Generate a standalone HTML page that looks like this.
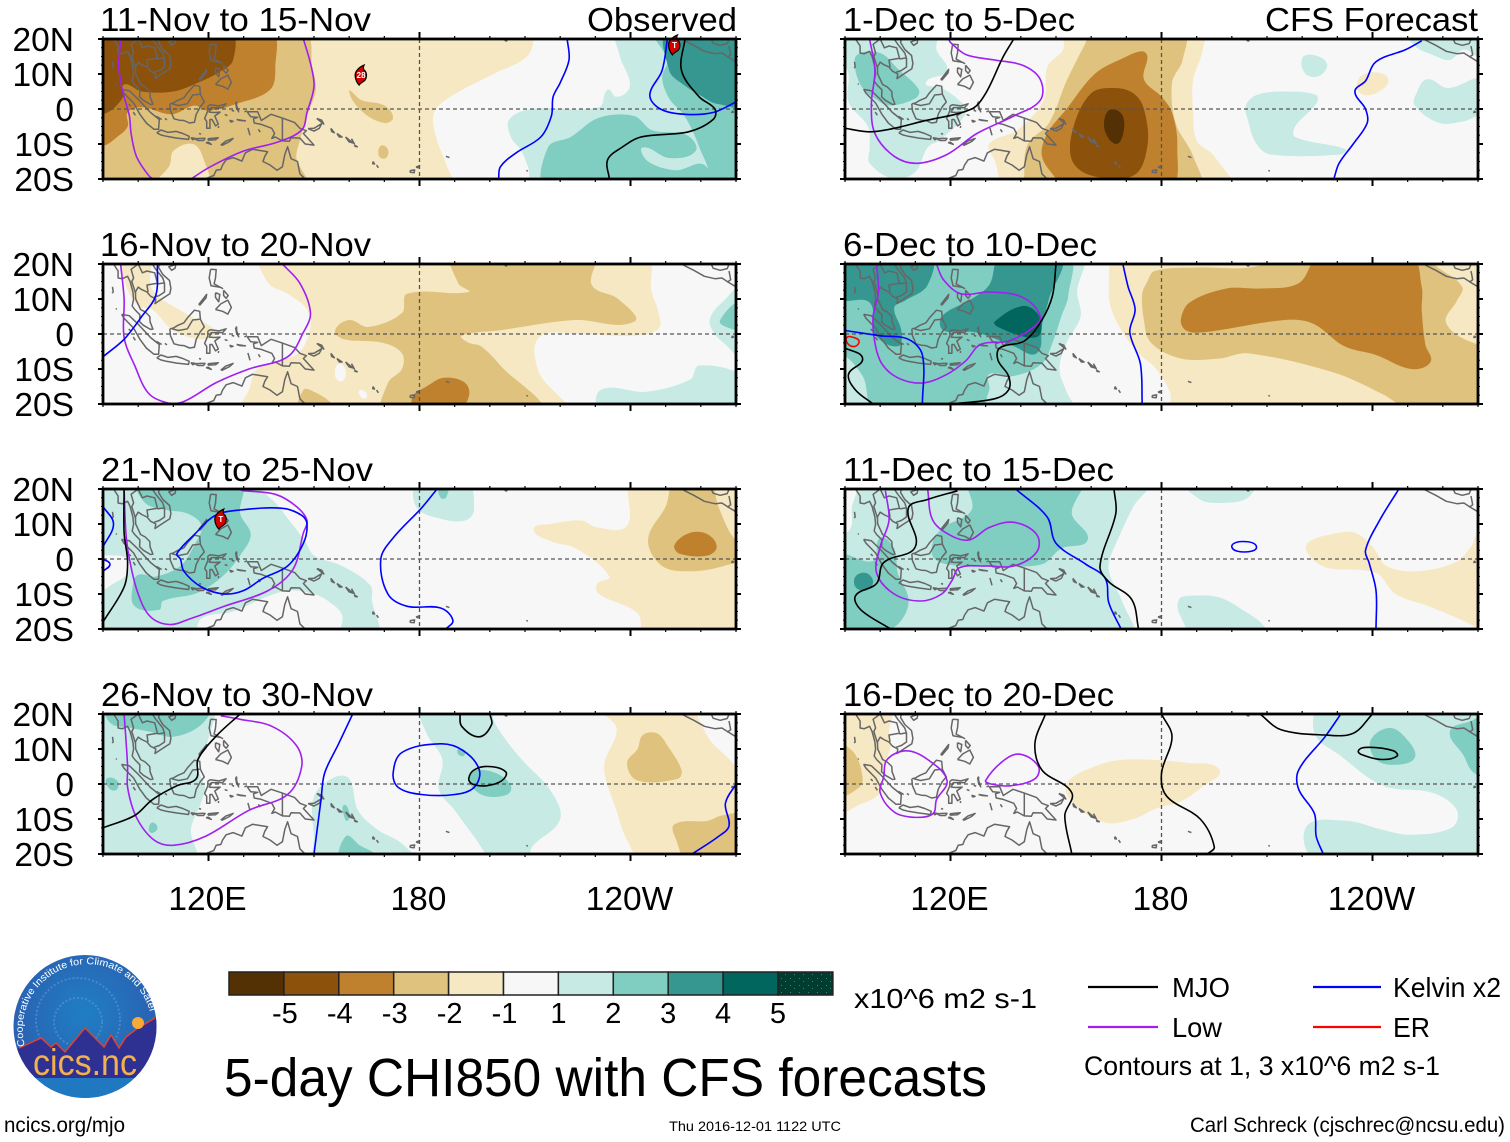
<!DOCTYPE html>
<html lang="en">
<head>
<meta charset="utf-8">
<title>5-day CHI850 with CFS forecasts</title>
<style>
html,body{margin:0;padding:0;background:#fff;}
svg{display:block;}
text{font-family:"Liberation Sans",sans-serif;fill:#000;}
</style>
</head>
<body>
<svg id="figure" xmlns="http://www.w3.org/2000/svg" width="1510" height="1142" viewBox="0 0 1510 1142">
  <rect x="0" y="0" width="1510" height="1142" fill="#ffffff"/>
  <defs>
    <radialGradient id="logoSky" cx="50%" cy="40%" r="60%">
      <stop offset="0%" stop-color="#1f7fc4"/>
      <stop offset="100%" stop-color="#2c5cae"/>
    </radialGradient>
    <clipPath id="logoClip"><ellipse cx="85" cy="1026.5" rx="71.5" ry="71.5"/></clipPath>
    <pattern id="specks" width="9" height="7" patternUnits="userSpaceOnUse">
      <rect width="1" height="1" x="2" y="1" fill="#2f8a7c"/>
      <rect width="1" height="1" x="7" y="5" fill="#2f8a7c"/>
    </pattern>
  </defs>

  <g font-size="33">
    <text x="100" y="31" textLength="271" lengthAdjust="spacingAndGlyphs">11-Nov to 15-Nov</text>
    <text x="587" y="31" textLength="150" lengthAdjust="spacingAndGlyphs">Observed</text>
    <text x="100" y="256" textLength="271" lengthAdjust="spacingAndGlyphs">16-Nov to 20-Nov</text>
    <text x="101" y="481" textLength="272" lengthAdjust="spacingAndGlyphs">21-Nov to 25-Nov</text>
    <text x="101" y="706" textLength="272" lengthAdjust="spacingAndGlyphs">26-Nov to 30-Nov</text>
    <text x="843" y="31" textLength="232" lengthAdjust="spacingAndGlyphs">1-Dec to 5-Dec</text>
    <text x="1265" y="31" textLength="213" lengthAdjust="spacingAndGlyphs">CFS Forecast</text>
    <text x="843" y="256" textLength="254" lengthAdjust="spacingAndGlyphs">6-Dec to 10-Dec</text>
    <text x="843" y="481" textLength="271" lengthAdjust="spacingAndGlyphs">11-Dec to 15-Dec</text>
    <text x="843" y="706" textLength="271" lengthAdjust="spacingAndGlyphs">16-Dec to 20-Dec</text>
  </g>

  <g id="panels"></g>
  <g id="colorbar"></g>

  <text x="854" y="1008" font-size="28" textLength="183" lengthAdjust="spacingAndGlyphs">x10^6 m2 s-1</text>

  <g>
    <line x1="1088" y1="987" x2="1158" y2="987" stroke="#000" stroke-width="2.2"/>
    <text x="1172" y="997" font-size="28" textLength="58" lengthAdjust="spacingAndGlyphs">MJO</text>
    <line x1="1088" y1="1027" x2="1158" y2="1027" stroke="#a020f0" stroke-width="2.2"/>
    <text x="1172" y="1037" font-size="28" textLength="50" lengthAdjust="spacingAndGlyphs">Low</text>
    <line x1="1313" y1="987" x2="1381" y2="987" stroke="#0000ff" stroke-width="2.2"/>
    <text x="1393" y="997" font-size="28" textLength="108" lengthAdjust="spacingAndGlyphs">Kelvin x2</text>
    <line x1="1313" y1="1027" x2="1381" y2="1027" stroke="#ff0000" stroke-width="2.2"/>
    <text x="1393" y="1037" font-size="28" textLength="37" lengthAdjust="spacingAndGlyphs">ER</text>
    <text x="1084" y="1075" font-size="27" textLength="356" lengthAdjust="spacingAndGlyphs">Contours at 1, 3 x10^6 m2 s-1</text>
  </g>

  <text x="224" y="1096" font-size="54" textLength="763" lengthAdjust="spacingAndGlyphs">5-day CHI850 with CFS forecasts</text>
  <text x="4" y="1132" font-size="21" textLength="121" lengthAdjust="spacingAndGlyphs">ncics.org/mjo</text>
  <text x="669" y="1131" font-size="14" textLength="172" lengthAdjust="spacingAndGlyphs">Thu 2016-12-01 1122 UTC</text>
  <text x="1190" y="1132" font-size="21" textLength="315" lengthAdjust="spacingAndGlyphs">Carl Schreck (cjschrec@ncsu.edu)</text>

  <g>
    <ellipse cx="85" cy="1026.5" rx="71.5" ry="71.5" fill="url(#logoSky)"/>
    <g clip-path="url(#logoClip)">
      <circle cx="78" cy="1020" r="42" fill="none" stroke="#5f97d6" stroke-width="2" stroke-dasharray="2 2" opacity="0.6"/>
      <circle cx="78" cy="1022" r="24" fill="none" stroke="#5f97d6" stroke-width="2" stroke-dasharray="2 2" opacity="0.6"/>
      <polygon points="10,1052 19,1048 41,1038 51,1047 56,1043 65,1052 85,1028 104,1047 111,1035 119,1048 126,1037 138,1028 160,1015 160,1078 10,1078" fill="#2e3192"/>
      <polyline points="19,1048 41,1038 51,1047 56,1043 65,1052 85,1028 104,1047 111,1035 119,1048 126,1037 138,1028 155,1018" fill="none" stroke="#e8402a" stroke-width="1.4"/>
      <rect x="10" y="1078" width="150" height="24" fill="#1f78c0"/>
    </g>
    <circle cx="138" cy="1023" r="6" fill="#f7a93a"/>
    <text x="85" y="1075" font-size="37" text-anchor="middle" textLength="104" lengthAdjust="spacingAndGlyphs" style="fill:#f2b04f">cics.nc</text>
    <path id="logoArc" d="M 25 1046 A 62 62 0 1 1 150 1012" fill="none"/>
    <text font-size="10" style="fill:#ffffff"><textPath href="#logoArc" textLength="222" lengthAdjust="spacingAndGlyphs">Cooperative Institute for Climate and Satellites</textPath></text>
  </g>
</svg>

<script>
// ---------- axis data ----------
const latTicks = [20, 10, 0, -10, -20];
const latLabels = ["20N", "10N", "0", "10S", "20S"];
const lonTicks = [120, 180, 240];
const lonLabels = ["120E", "180", "120W"];

// ---------- colour scale (fill band ids, colours, colour bar labels) ----------
const scaleLevels = [-5, -4, -3, -2, -1, 0, 2, 3, 4, 5, 6];
const scaleColors = ["#543005", "#8c510a", "#bf812d", "#dfc27d", "#f6e8c3", "#f7f7f7", "#c7eae5", "#80cdc1", "#35978f", "#01665e", "#003c30"];
const scaleLabels = ["-5", "-4", "-3", "-2", "-1", "1", "2", "3", "4", "5"];

// ---------- coastlines (lon, lat pairs) ----------
const coastlines = [
  [92,21,93,20,94.3,18,94.3,16,95.5,15.8,97,16.5,97.7,15,98.5,12,98.7,10,98.3,8,99,7,100.5,5.5,100.4,3.5,101.5,2.5,103.5,1.3,104.2,1.4,103.4,3.5,103.3,5,102,6.3,100.7,7,100,8.5,99.3,10,99.2,12,100,13.4,101,12.7,102.5,12,103.5,10.8,105,10,104.8,8.7,106.7,10,109,11.5,109.3,13,108.9,15.3,107,17,105.8,19,106,20,107,21],
  [100,20,98,18.5,98.7,16,98.2,15,99.3,11.5],
  [100,20,101.2,17.5,102.5,18,104.7,17.5,105.5,14.5,102.5,14,102.8,12],
  [104,20,105,18.5,107,16,107.5,14.5,107.5,12,106,11,104.5,10.5],
  [105.5,14.3,107.5,14.6],
  [95.3,5.6,97.5,5.2,100,2.8,103.5,-1,106,-3,105.8,-5.8,104.5,-5.8,102.3,-4,100.5,-1.5,98.7,1.7,96,4.5,95.3,5.6],
  [109,1.5,110,1.7,111.3,2.5,113,3.2,114,4.6,116,6.8,117.5,6.5,117.7,4.2,118.8,2,117.7,0.7,116.5,-1.5,116,-3.8,114.6,-4,113,-3.3,111.7,-3.2,110.2,-2.8,109.2,-0.5,109,1.5],
  [109.6,1.5,111.5,1,114,1.5,115.5,4,117.5,4.2],
  [105.3,-6.8,106.5,-6,108.5,-6.7,110.8,-6.4,112.7,-7,114.5,-7.8,114.3,-8.7,111,-8.3,108,-7.8,106.4,-7.4,105.3,-6.8],
  [115,-8.2,116.2,-8.4,115.6,-8.8,115,-8.2],
  [116.2,-8.5,118,-8.4,119,-8.4,118.6,-9,117,-9,116.2,-8.5],
  [119.8,-8.5,122.8,-8.2,122,-8.8,120,-8.9,119.8,-8.5],
  [119.3,-9.6,120.8,-10.1,120,-9.5,119.3,-9.6],
  [123.5,-10.3,125,-9.1,127,-8.4,126,-9.3,124,-10.3,123.5,-10.3],
  [119.8,0.8,120.5,1.2,123,0.9,125,1.5,124,0.4,120.8,0.4,120.2,-0.9,121.5,-1,123.3,-0.9,121.8,-2,122.8,-4.3,122,-4.8,121,-3,120.4,-3,120.4,-5.5,119.5,-5.5,119.5,-3.5,118.9,-2.7,119.8,-0.5,119.8,0.8],
  [120.6,18.5,122.2,18.4,122,16,121.6,14.3,124,13,123.5,13.3,120.7,13.8,120.2,16,120.6,18.5],
  [122,7,123.5,8.6,125.5,9.7,126.5,7.6,125.5,5.7,124,6.5,122,7],
  [124.3,12.5,125.6,11,125,10.2,124.3,11,124.3,12.5],
  [122,11.8,123.2,11.3,122.9,9.2,122,10.5,122,11.8],
  [117.2,8.4,119.5,11.3,119.3,10.3,117.6,8.3,117.2,8.4],
  [110.7,19.9,108.7,19.2,109.5,18.2,110.5,18.8,110.7,19.9],
  [131,-0.8,134,-0.8,135,-3.3,137.8,-1.5,141,-2.6,144.5,-3.9,146,-5.5,147.8,-6.2,147,-7,150,-10.3,147.5,-10,146,-8.3,143.5,-8.2,143,-9.2,141,-9.1,139,-8,138,-8.4,138.8,-7,138,-5.5,135,-4.4,133,-4,132.8,-2.8,134,-2.4,132,-2.2,131,-0.8],
  [141,-2.6,141,-9.1],
  [119,-20,121.5,-19,122.2,-17.5,123.5,-17.3,124,-16,125,-14.5,127,-13.9,129.5,-14.9,130.5,-12.5,132.5,-11.5,135.5,-12,136.8,-12.2,136,-13.5,135.5,-15,137.5,-16,139.5,-17.5,141,-16.5,141.7,-13,142.5,-10.8,143.5,-14.2,145.3,-15,146,-18.5,148,-20.5],
  [148.3,-5.6,150,-5.5,152.2,-4.2,151.5,-5.5,150,-6.3,148.3,-5.6],
  [150.8,-2.7,152.8,-4.3,152.2,-3.2,150.8,-2.7],
  [154.8,-5.5,155.8,-6.8,155,-6.4,154.8,-5.5],
  [156.5,-7,158,-8,157.2,-8,156.5,-7],
  [159,-8,161,-9.7,160,-9.4,159,-8],
  [160.7,-8.5,161.5,-10,161,-9.4,160.7,-8.5],
  [161.5,-10.3,162.3,-10.8,161.7,-10.7,161.5,-10.3],
  [166.8,-15,167.2,-15.7,166.7,-15.6,166.8,-15],
  [167.8,-16,168.3,-16.8],
  [177.3,-17.6,178.6,-17.4,178.5,-18.2,177.4,-18.1,177.3,-17.6],
  [179,-16.6,180,-16.2,179.6,-16.8,179,-16.6],
  [187.5,-13.5,188.5,-13.9],
  [210.4,-17.5,210.8,-17.8],
  [204.1,19.8,204.6,19.4,205,19.6],
  [253.5,20.5,254.5,20,256,19.2,258,18.2,261,16.5,264,15.8,266,16,268,14.7,270,13.5],
  [262.5,21,263.5,18.8,265.5,18.2,267.5,18.7,268.5,21],
  [268,18,268.5,15.5,267.5,14.8],
  [269,-0.5,269.3,-0.9,268.8,-1,269,-0.5],
  [127.7,1.8,128,0.2,128.6,-0.8,128,1,128,2,127.7,1.8],
  [128,-3,130.5,-3.4,129,-3.3,128,-3],
  [126,-3.2,127,-3.5,126.4,-3.7,126,-3.2],
  [131.2,-5.4,131.8,-7.5],
  [134.2,-5.8,134.7,-6.6],
  [92.7,13.5,92.9,12,92.6,11.7],
  [93.7,7.3,93.9,7],
  [97.3,1.4,97.9,0.9],
  [98.6,-0.9,99.2,-1.8],
  [105.2,-2.1,106.7,-3],
  [107.6,-2.7,108.2,-3.1],
  [117.3,-7,117.9,-7.2],
  [124.6,-1.6,125.4,-1.9],
  [126.6,-0.4,127.3,-0.6],
  [122.8,-5.4,122.9,-4.9],
  [130.2,-0.8,131,-0.5]
];

// ---------- 11-Nov to 15-Nov (observed) ----------
const nov11Fills = [
  [-1, [211,22,211,15.5,201,10,188,3,184,-1.5,185,-9,187.5,-15.5,189,-23,80,-23,80,22]],
  [-2, [147,22,149.5,12,150.5,5.5,148,-2,146,-9,145,-14,148,-23,80,-23,80,22]],
  [-1, [110,-12,115.5,-10,118.5,-14,119.5,-23,105,-23,109,-16]],
  [-2, [160,5,163.5,2.5,170,1,172.5,-2.5,170,-4,164,-1]],
  [-2, [169,-10.5,171,-11.5,170.5,-14,168.5,-13.5]],
  [-3, [137.5,22,139,12,137.5,5.5,128,1.5,120,-0.5,116,1,109.5,-1.5,101,0.5,97,-1,97,-5,94,-8,90,-10.5,80,-10,80,22]],
  [-4, [126,22,127,14,123,10.5,117,7.5,110,5,101,5,96,7,95.5,3,90,-1.5,80,-1,80,22]],
  [2, [236.5,23,237,15,239.5,9,239.5,5.5,236,3.5,233.5,5.5,231,0.5,212,0,205.5,-3,206,-8,209,-12,211,-17,212.5,-23,280,-23,280,23]],
  [3, [216.5,-23,216.5,-11,223,-8,231,-2.5,241,-2,246,-6,256,-7.5,258.5,-12,251,-14,243.5,-11,245,-15,253,-17.5,261,-16,262,-23]],
  [3, [247,23,250.5,14,249,9,251,3,255,-1.5,258,-7,260,-12,262,-17,262,-23,280,-23,280,23]],
  [4, [251,23,251,11,255,7,260.5,3.5,264.5,1.5,275,1.5,275,23]]
];
const nov11Low = [
  [95,20,94.5,12,95.5,5.5,97.5,-2,98,-7,99.5,-13.5,103,-19,105,-20.5],
  [115,-20,120.5,-16.5,130,-12,139.5,-9.5,146.5,-6,148,-1,150,6.5,149,13,147,20]
];
const nov11Kelvin = [
  [222,20,222.5,14,220,7.5,218,3.5,217.5,-2,214.5,-8,207.5,-12.5,203,-16.5,202.5,-20],
  [250.5,20,249,11,245.5,4,248.5,0,255.5,-1.5,263.5,-1,270,2]
];
const nov11Mjo = [
  [255.5,20,254.5,11,259.5,3.5,264,0,263.5,-3,256.5,-6.5,243,-8,237.5,-11,233.5,-14.5,234,-20]
];
const nov11Er = [];
const nov11Storms = [[163.4, 9.7, "28"], [252.5, 18.3, "T"]];

// ---------- 16-Nov to 20-Nov ----------
const nov16Fills = [
  [-1, [135,23,137,14.5,142.5,11.5,148,7,149,2,145.5,-5.5,134,-10,131.5,-16,129,-23,222,-23,214,-11,214,-1,225,0,241,-0.5,248,1.5,248,6,246,12,244,23]],
  [0, [157,-8.5,159,-10.5,158,-13.5,156,-12]],
  [0, [163,-16,165,-17,164.5,-18.5,163,-17.5]],
  [-1, [96,22,103,22,103.5,14,106,10.5,115,5,122,0.5,118,-1.5,110,1,104,7,100,8,96.5,14]],
  [-2, [189.5,23,191,14.5,194,12,176.5,11.5,175,6,165.5,2,160,4,156,1,158.5,-1.5,169.5,-2.5,175,-5.5,175,-10,171,-14,170,-23,214,-23,203,-9,197.5,-3.5,194,-2.5,192,-0.5,202.5,1,224,4,241,3.5,236.5,10,229,14,229.5,23]],
  [-2, [147,-16,150,-16.5,155,-20,155,-23,146,-23]],
  [-3, [179,-23,190,-23,194,-18,193,-14,187,-12.5,182,-15,178,-18]],
  [2, [232,-23,231.5,-16,244.5,-16.5,257,-13,259.5,-9,272,-12,280,-23]],
  [2, [275,15,266,9,262.5,4,264,0,267,-3,272,-7,280,-5]],
  [3, [275,10,265.5,4,270,1,275,0]]
];
const nov16Low = [
  [95,20,96,10,96,-1,99,-9,103,-17,108.5,-19.7,113,-19.3,122,-14,131.5,-10,142.5,-6.5,147,0.5,149,6,146,14.5,141,20]
];
const nov16Kelvin = [
  [90,-6.5,96,-1.5,101,5,105,11,105.5,20]
];
const nov16Mjo = [];
const nov16Er = [];
const nov16Storms = [];

// ---------- 21-Nov to 25-Nov ----------
const nov21Fills = [
  [2, [129,23,138,17,143,11,147.5,5,150,1,158,-2,166,-7.5,166.5,-12,168,-23,158,-23,158,-16,154,-12,150,-10,143,-9,136,-11,127,-15,118,-17,115,-23,80,-23,80,23]],
  [0, [88,0,92,1,97,0,97,-4,93,-7,88,-9]],
  [2, [180,23,179,15,186,11.5,193,11,195.5,14,193,23]],
  [3, [185.5,21,188,21,187.5,17.5,186,17.5]],
  [3, [100,22,102,16,108,14,114,13,118,9.5,116,4,112,-2,105,-5,100,-4.5,98.5,-7.5,99,-13.5,106,-14.5,107,-12,116,-10,120,-8,125,-4,129,1,132,7,129,13,129,23]],
  [-1, [241,23,239,9.5,230.5,9,226,11,217.5,10,212.5,8.5,217.5,5,224.5,3,234,-5,230.5,-7,231,-10,242,-15.5,244.5,-23,280,-23,280,23]],
  [-2, [253,23,250,15,245,5.5,249,-2,257,-3.5,266.5,-2,272,1,268,8,265,15,262,23]],
  [-3, [252.5,4,257,7.5,262,7,264.5,3.5,262,1,254,1.5]]
];
const nov21Low = [
  [96,20,96.5,7.5,97.5,0,100,-10,103.5,-16.5,109,-18.7,115,-17,124.5,-13.5,137,-9,144,-3,147,7.5,148,11,145,15,139,18.5,129.5,19.6,129,20]
];
const nov21Kelvin = [
  [111,1.5,116,7,122,12.5,129,14,141,14.5,146.5,12.5,148,10,147,4.5,142.5,-2,135.5,-5.5,130,-9,124.5,-10,118,-8,113,-3.5,112,0,111,1.5],
  [90,15,93,10,90,3.5],
  [90,0,92,-1.5,90,-3.5],
  [185,20,180.5,14.5,172.5,6,169,0,171,-10,176.5,-13.5,186,-14,189.5,-17.5,187.5,-20]
];
const nov21Mjo = [
  [96,20,96,7.5,97,-1,96,-8,90,-18]
];
const nov21Er = [];
const nov21Storms = [[123.5, 11.4, "T"]];

// ---------- 26-Nov to 30-Nov ----------
const nov26Fills = [
  [2, [120.5,23,120,13,117,5,119,-1,118,-5,115,-13,116,-23,80,-23,80,23]],
  [3, [91,23,92,17.5,98,16,103,15,110,13.5,118,17,120.5,23]],
  [3, [91,1.5,94,1,94,-1.5,92,-1.5]],
  [3, [104,-11,105.5,-12.5,104,-14,103,-13]],
  [2, [150,-3.5,156,2,160,1.5,162.5,-7.5,168,-13,175,-17,179,-23,151,-23,150,-15]],
  [3, [158.5,-6,160,-8,159.5,-10.5,158.5,-9]],
  [3, [158,-23,159,-15,163,-17.5,168,-20.5,168,-23]],
  [2, [180.5,23,182,14.5,186.5,7,185.5,-1.5,190,-7.5,195.5,-15,202,-23,210.5,-23,212,-18,220,-10,217,-1.5,210,6,205,12,201,18.5,201,23]],
  [3, [191,10,193,9.5,192.5,8,191,8.5]],
  [3, [196,4,202,3,206,-0.5,205,-3,199,-3.5,195,-1,194,2]],
  [-1, [230,23,236,16,232.5,5,236,-7.5,239,-16,244.5,-23,280,-23,272,0,269,6,263,12,255,23]],
  [-2, [247.5,14.5,250.5,11,254.5,4,253.5,1.5,242,1,239,6,242,10,243.5,14]],
  [-2, [252.5,-11.5,262,-10.5,266,-9,275,-9,275,-23,257,-23,253,-16]]
];
const nov26Low = [
  [96,20,97,5,97,-1,99.5,-9.5,104.5,-16,110,-17.5,119,-15,131.5,-7.5,142.5,-3,146.5,5,145,11,138,16.5,129,18.5,123.5,19.5]
];
const nov26Kelvin = [
  [161,20,157,11.5,153,3,152,-4.5,150,-20],
  [172.5,3,175,9,186,11.5,192.5,9.5,197,4,195.5,-1,190,-3,180.5,-3,174,-1,172.5,3],
  [270,0,267,-5.5,268,-12,265,-15,257.5,-20]
];
const nov26Mjo = [
  [191.5,20,192,16.5,197,13.5,200.5,17,200,20],
  [194,1.5,195.5,4,199.5,5,204.5,3.5,203.5,1,199,-0.5,195,0,194,1.5],
  [129,20,122,13.5,117,7,116.5,1.5,111,-0.5,104,-4.5,99,-9,90,-12.5]
];
const nov26Er = [];
const nov26Storms = [];

// ---------- 1-Dec to 5-Dec (forecast) ----------
const dec1Fills = [
  [2, [88,23,116,23,116,17,119,11,113,7.5,117.5,6,123,2,124.5,-1,117.5,-8.5,113.5,-11,110,-18,104,-20,97,-15.5,97,-11,96.5,-5,91,2,91,10,89,15]],
  [3, [93.5,15.5,100,16,105,11.5,111,5.5,110,3,102.5,1,98.5,3,95,6,93,11]],
  [2, [220,14.5,223,15.5,227,13,225,9.5,221,10]],
  [2, [204,1,207,4,215,5,224,4,224,1.5,218,-5,218,-8,232.5,-11.5,231,-13,211,-13,207,-10,204.5,-3]],
  [2, [250,22,252,18,257,15.5,262,14,266,17,270,15,275,15,275,22]],
  [2, [270,9,261.5,6,255.5,8.5,252.5,4.5,252,1,259,-4,266,-3.5,270,-2,275,-2,275,9]],
  [-1, [153,23,152,17,147.5,12,146.5,2.5,139,-6,131,-10,132.5,-14.5,136.5,-23,199.5,-23,195,-13.5,190,-9,189,-1,189,8.5,191.5,16,191.5,23]],
  [-2, [161,23,158,18,153,8,148,-4,142,-10,141,-18,142,-23,190.5,-23,189,-13.5,184,-4,183,7.5,186,14,186,23]],
  [-3, [174.5,16.5,169,14.5,161,10,153,0,147.5,-7,146,-13.5,150,-20,152,-23,182,-23,184.5,-10.5,183,-1,180,3.5,175,8.5,176,15]],
  [-4, [166.5,6,160,4.5,155,-5,154.5,-14.5,160,-19,172,-19,176,-10.5,175,0,172,4.5]],
  [-5, [166,0,164,-2,164,-6.5,167,-10,169,-7.5,169,-2]],
  [-1, [236,8.5,240,10.5,244.5,8.5,241,4.5,236.5,4.5]]
];
const dec1Low = [
  [97,20,98.5,11,97.5,1.5,98.5,-7,104,-13.5,110.5,-15.5,119,-13,127.5,-7,138,-2,145.5,2.5,145.5,8.5,140.5,12.5,132.5,14,124.5,15.5,120,19,119.5,20]
];
const dec1Kelvin = [
  [254,19.5,249.5,17,241,13.5,238,8,235,5,238,0,238.5,-4,234.5,-10,230.5,-15.5,229,-20]
];
const dec1Mjo = [
  [138,20,135,15,130,4.5,126,0,112,-3.5,104,-5.5,97,-6.5,90,-5.5]
];
const dec1Er = [];
const dec1Storms = [];

// ---------- 6-Dec to 10-Dec ----------
const dec6Fills = [
  [-1, [168,23,165,12,167,4,173,-5,178.5,-10,182.5,-17,183,-23,280,-23,280,23]],
  [-2, [190,19,178,18,176,15,174.5,11.5,175,4,177,-2.5,185.5,-7,196.5,-7,204.5,-5.5,229,-11,242.5,-17,253.5,-23,280,-23,280,-3.5,270,-3,261,3,264,9.5,265.5,13.5,258,19.5,255,23,222,23,205,19]],
  [-3, [225.5,23,219,14.5,208,13,198.5,13,188,9,185.5,4,187,1,192,0.5,215,4,223,3,232,-3.5,241,-6,251,-10,256.5,-8,255,-3,254,7,254,13.5,250.5,23]],
  [2, [157,23,156,12,157,5,153,-2.5,151,-10,153,-16.5,155.5,-23,80,-23,80,23]],
  [3, [153,23,153.5,11,151.5,5,149,-2.5,146,-8.5,138,-12,131,-11.5,131,-16,127,-23,99,-23,95,-12,88,-5,80,-5,80,23]],
  [4, [88,23,88,10.5,97,9,98.5,0,105,-3.5,106,1,104,7.5,107,9.5,113.5,14,114,23]],
  [4, [151,23,148,10,146,2.5,144.5,-5.5,138,-3.5,127,0.5,118,1,117.5,5,126,10,131,14,132.5,19.5,133,23]],
  [5, [132.5,3.5,140.5,8,145,5.5,145.5,0,142,-1,133.5,2]]
];
const dec6Low = [
  [99,20,99.5,12,98,5,98.5,-2.5,100.5,-8.5,105,-12.5,112,-14,119,-11.5,124.5,-7.5,128.5,-3,136.5,-2,143,1.5,145.5,5,140.5,10.5,131,12,123,11.5,118,15.5,116,20]
];
const dec6Kelvin = [
  [90,1,100,-0.5,108,-1.5,112,-6,112,-20],
  [169,20,170.5,13.5,172.5,7,171,0.5,174,-8.5,174.5,-20]
];
const dec6Mjo = [
  [150,20,149,11,146,4,141,-2,134,-4,133.5,-7.5,136.5,-12,136.5,-16,132.5,-18.5,120,-20],
  [90,-4,95,-7,91,-11.5,93,-16,98,-20]
];
const dec6Er = [
  [90.5,-1,92.5,-1,94,-2,93,-3.5,91,-3,90.5,-1]
];
const dec6Storms = [];

// ---------- 11-Dec to 15-Dec ----------
const dec11Fills = [
  [2, [177,23,172,15,168,6.5,165,-1,165.5,-5,169,-12.5,171.5,-23,80,-23,80,5,91,8,92,15,93.5,20,93.5,23]],
  [3, [157,23,154.5,13,159,5.5,151.5,3,146,-1.5,134,-2,123,-2,115.5,0,115,5,118,9,126,14,125.5,23]],
  [3, [88,0.5,98,-0.5,100,6,104,3,105,-4,108,-11,107,-16,103,-20,88,-23]],
  [4, [93,-5,96,-4,98,-6.5,96,-9,93,-8]],
  [2, [186,23,191,17,196.5,16,204.5,17.5,206.5,23]],
  [2, [185,-11.5,188,-10.5,196.5,-11,203,-14.5,209,-19,210,-23,190.5,-23,185,-15.5]],
  [-1, [221.5,4.5,228,7,235,7.5,240,3.5,244,-2,252.5,-3.5,263.5,-1,268,3.5,270.5,8,276,8,276,-24,268.5,-19,256,-13.5,246.5,-10,241,-4,227,-2.5,222,1]]
];
const dec11Low = [
  [101.5,19.5,102.5,11,100,3.5,99,-4,104,-10,111.5,-12,117.5,-10,120.5,-6,122.5,-2.5,130,-2,138,-2,144.5,2,144.5,7,138,10.5,131,9,125.5,5.5,120.5,6.5,115,11,113.5,20]
];
const dec11Kelvin = [
  [138.5,20,147.5,12,150,4.5,158.5,-1.5,164,-5.5,165,-12.5,168.5,-20],
  [200,3.5,203,5,207,3.5,203.5,2,200,3.5],
  [247.5,20,242,11,238,2.5,239,-1,241,-9,241,-20]
];
const dec11Mjo = [
  [122,19.5,113.5,17,108,14.5,110,3.5,101,-1,99,-7,93,-10.5,94.5,-14.5,103,-20],
  [166.5,20,167,13,162.5,-2,165,-6.5,171.5,-11.5,173.5,-20]
];
const dec11Er = [];
const dec11Storms = [];

// ---------- 16-Dec to 20-Dec ----------
const dec16Fills = [
  [-1, [102.5,23,102.5,14.5,103,10.5,100,3,100,-2.5,93,-6.5,88,-9,80,-9,80,23]],
  [-2, [88,11,92.5,9,95,2,94,-1,88,-3]],
  [-1, [153,0,161,5,170,7,188,6,196.5,4,192,-0.5,185.5,-5,178.5,-7,172,-10,164,-11,155,-5.5]],
  [2, [226,23,223.5,14.5,231,8,243,-0.5,257,-2.5,264,-7.5,262.5,-12.5,250.5,-14.5,242.5,-13,232.5,-10.5,221,-12.5,225.5,-23,280,-23,280,23]],
  [3, [239.5,12.5,245,16,250,12.5,252,7.5,246.5,5.5,241,7]],
  [3, [262,15,266,8,268,4,271,2,275,2,275,21,268,18]]
];
const dec16Low = [
  [102,7,107.5,9.5,113.5,7,119,1,116,-4.5,115,-8.5,109.5,-9.5,104,-8,100,-2.5,101,2,102,7],
  [130,1,135.5,7,140,8.5,145,5,144,1.5,137,-0.5,131.5,0,130,1]
];
const dec16Kelvin = [
  [231,20,226.5,13.5,219,4,219,-1.5,223.5,-8.5,224,-15,226,-20]
];
const dec16Mjo = [
  [147,20,144,11.5,146,4,154.5,-2.5,152.5,-9,154.5,-20],
  [180,20,183,13.5,180,3,181.5,-3.5,191,-10,195,-18,193,-20],
  [208,20,214,15.5,226.5,14,234.5,14.5,240,20],
  [236,9.5,239,10.5,246,9.5,247,8,243,7,238,8,236,9.5]
];
const dec16Er = [];
const dec16Storms = [];

// ---------- panel registry ----------
const panelList = [
  {id:"nov-11", col:0, row:0, fills:nov11Fills, low:nov11Low, kelvin:nov11Kelvin, mjo:nov11Mjo, er:nov11Er, storms:nov11Storms},
  {id:"nov-16", col:0, row:1, fills:nov16Fills, low:nov16Low, kelvin:nov16Kelvin, mjo:nov16Mjo, er:nov16Er, storms:nov16Storms},
  {id:"nov-21", col:0, row:2, fills:nov21Fills, low:nov21Low, kelvin:nov21Kelvin, mjo:nov21Mjo, er:nov21Er, storms:nov21Storms},
  {id:"nov-26", col:0, row:3, fills:nov26Fills, low:nov26Low, kelvin:nov26Kelvin, mjo:nov26Mjo, er:nov26Er, storms:nov26Storms},
  {id:"dec-1",  col:1, row:0, fills:dec1Fills,  low:dec1Low,  kelvin:dec1Kelvin,  mjo:dec1Mjo,  er:dec1Er,  storms:dec1Storms},
  {id:"dec-6",  col:1, row:1, fills:dec6Fills,  low:dec6Low,  kelvin:dec6Kelvin,  mjo:dec6Mjo,  er:dec6Er,  storms:dec6Storms},
  {id:"dec-11", col:1, row:2, fills:dec11Fills, low:dec11Low, kelvin:dec11Kelvin, mjo:dec11Mjo, er:dec11Er, storms:dec11Storms},
  {id:"dec-16", col:1, row:3, fills:dec16Fills, low:dec16Low, kelvin:dec16Kelvin, mjo:dec16Mjo, er:dec16Er, storms:dec16Storms}
];

// ---------- layout ----------
const NS = "http://www.w3.org/2000/svg";
const colLeft = [103, 845];
const rowTop = [39, 264, 489, 714];
const plotW = 633;
const plotH = 140;
const lonMin = 90, lonMax = 270, latMax = 20, latMin = -20;

function make(tag, attrs, parent) {
  const el = document.createElementNS(NS, tag);
  for (const k in attrs) el.setAttribute(k, attrs[k]);
  parent.appendChild(el);
  return el;
}
function pairs(flat, xs, ys) {
  const out = [];
  for (let i = 0; i + 1 < flat.length; i += 2) out.push([xs(flat[i]), ys(flat[i + 1])]);
  return out;
}
function splinePath(pts, closed) {
  const n = pts.length;
  const at = i => closed ? pts[(i + n) % n] : pts[Math.max(0, Math.min(n - 1, i))];
  const dir = i => {
    const a = at(i - 1), b = at(i + 1);
    const dx = b[0] - a[0], dy = b[1] - a[1];
    const l = Math.hypot(dx, dy) || 1;
    return [dx / l, dy / l];
  };
  let d = "M" + pts[0][0].toFixed(1) + "," + pts[0][1].toFixed(1);
  const segs = closed ? n : n - 1;
  for (let i = 0; i < segs; i++) {
    const p1 = at(i), p2 = at(i + 1);
    const len = Math.hypot(p2[0] - p1[0], p2[1] - p1[1]) / 3;
    const t1 = dir(i), t2 = dir(i + 1);
    d += "C" + (p1[0] + t1[0] * len).toFixed(1) + "," + (p1[1] + t1[1] * len).toFixed(1) + " " +
         (p2[0] - t2[0] * len).toFixed(1) + "," + (p2[1] - t2[1] * len).toFixed(1) + " " +
         p2[0].toFixed(1) + "," + p2[1].toFixed(1);
  }
  return d + (closed ? "Z" : "");
}
function isClosed(flat) {
  return flat.length > 4 && flat[0] === flat[flat.length - 2] && flat[1] === flat[flat.length - 1];
}
function linearPath(pts) {
  return "M" + pts.map(p => p[0].toFixed(1) + "," + p[1].toFixed(1)).join("L");
}
function colorFor(level) {
  return scaleColors[scaleLevels.indexOf(level)];
}

// ---------- draw panels ----------
const panelsRoot = document.getElementById("panels");
panelList.forEach(function (panel) {
  const left = colLeft[panel.col], top = rowTop[panel.row];
  const xs = lon => left + (lon - lonMin) / (lonMax - lonMin) * plotW;
  const ys = lat => top + (latMax - lat) / (latMax - latMin) * plotH;

  const group = make("g", {}, panelsRoot);
  
  

  const clipId = "clip-" + panel.id;
  const clip = make("clipPath", {id: clipId}, group);
  make("rect", {x: left, y: top, width: plotW, height: plotH}, clip);

  const body = make("g", {"clip-path": "url(#" + clipId + ")"}, group);
  
  

  const bg = make("rect", {x: left, y: top, width: plotW, height: plotH, fill: colorFor(0)}, body);
  
  

  panel.fills.forEach(function (shape) {
    const fillPath = make("path", {d: splinePath(pairs(shape[1], xs, ys), true), fill: colorFor(shape[0])}, body);
    
    
  });

  coastlines.forEach(function (flat) {
    const coast = make("path", {d: linearPath(pairs(flat, xs, ys)), fill: "none", stroke: "#666666", "stroke-width": 1.5, "stroke-linejoin": "round"}, body);
    
    
  });

  const eq = make("line", {x1: left, x2: left + plotW, y1: ys(0), y2: ys(0), stroke: "#555555", "stroke-width": 1.3, "stroke-dasharray": "4 3"}, body);
  
  
  const dl = make("line", {x1: xs(180), x2: xs(180), y1: top, y2: top + plotH, stroke: "#555555", "stroke-width": 1.3, "stroke-dasharray": "4 3"}, body);
  
  

  panel.low.forEach(function (flat) {
    const p = make("path", {d: splinePath(pairs(flat.slice(0, isClosed(flat) ? -2 : undefined), xs, ys), isClosed(flat)), fill: "none", stroke: "#a020f0", "stroke-width": 1.6}, body);
    
    
  });
  panel.kelvin.forEach(function (flat) {
    const p = make("path", {d: splinePath(pairs(flat.slice(0, isClosed(flat) ? -2 : undefined), xs, ys), isClosed(flat)), fill: "none", stroke: "#0000ff", "stroke-width": 1.6}, body);
    
    
  });
  panel.mjo.forEach(function (flat) {
    const p = make("path", {d: splinePath(pairs(flat.slice(0, isClosed(flat) ? -2 : undefined), xs, ys), isClosed(flat)), fill: "none", stroke: "#000000", "stroke-width": 1.6}, body);
    
    
  });
  panel.er.forEach(function (flat) {
    const p = make("path", {d: splinePath(pairs(flat.slice(0, isClosed(flat) ? -2 : undefined), xs, ys), isClosed(flat)), fill: "none", stroke: "#ff0000", "stroke-width": 1.6}, body);
    
    
  });

  panel.storms.forEach(function (storm) {
    const cx = xs(storm[0]), cy = ys(storm[1]);
    const sg = make("g", {transform: "translate(" + cx.toFixed(1) + "," + cy.toFixed(1) + ")"}, group);
    
    
    make("path", {d: "M3,-10 C-2,-8 -6,-4 -6,0 C-6,4 -4,8 -2,10 C-1,8 2,7 4,5 C6,2 6,-3 3,-5 C2,-7 2,-8 3,-10Z", fill: "#d40000", stroke: "#000", "stroke-width": 1.2}, sg);
    const label = make("text", {x: 0, y: 3, "font-size": 8, "font-weight": "bold", "text-anchor": "middle", style: "fill:#ffffff"}, sg);
    label.textContent = storm[2];
  });

  // frame
  const frame = make("rect", {x: left, y: top, width: plotW, height: plotH, fill: "none", stroke: "#000", "stroke-width": 2.8}, group);
  
  

  // ticks
  const tickGroup = make("g", {stroke: "#000", "stroke-width": 1.4}, group);
  
  
  for (let lon = lonMin; lon <= lonMax; lon += 10) {
    const major = lonTicks.indexOf(lon) >= 0;
    const len = major ? 7 : 3;
    make("line", {x1: xs(lon), x2: xs(lon), y1: top - len, y2: top, "stroke-width": major ? 2 : 1.2}, tickGroup);
    make("line", {x1: xs(lon), x2: xs(lon), y1: top + plotH, y2: top + plotH + len, "stroke-width": major ? 2 : 1.2}, tickGroup);
  }
  for (let lat = latMin; lat <= latMax; lat += 2.5) {
    const major = latTicks.indexOf(lat) >= 0;
    const len = major ? 5 : 2;
    make("line", {x1: left - len, x2: left, y1: ys(lat), y2: ys(lat), "stroke-width": major ? 2 : 1}, tickGroup);
    make("line", {x1: left + plotW, x2: left + plotW + len, y1: ys(lat), y2: ys(lat), "stroke-width": major ? 2 : 1}, tickGroup);
  }

  // y tick labels on the left column only
  if (panel.col === 0) {
    latTicks.forEach(function (lat, i) {
      const t = make("text", {x: left - 29, y: ys(lat) + 12, "font-size": 33.5, "text-anchor": "end"}, group);
      
      
      t.textContent = latLabels[i];
    });
  }

  // x tick labels on the bottom row only
  if (panel.row === rowTop.length - 1) {
    lonTicks.forEach(function (lon, i) {
      const t = make("text", {x: xs(lon) - 1, y: 910, "font-size": 33.5, "text-anchor": "middle"}, group);
      
      
      t.textContent = lonLabels[i];
    });
  }
});

// ---------- colour bar ----------
const cbRoot = document.getElementById("colorbar");
const cbLeft = 229, cbTop = 972, cbBoxW = 54.9, cbBoxH = 23;
scaleColors.forEach(function (color, i) {
  const box = make("rect", {x: cbLeft + i * cbBoxW, y: cbTop, width: cbBoxW, height: cbBoxH, fill: color, stroke: "#222", "stroke-width": 1.5}, cbRoot);
  
  
});
const speck = make("rect", {x: cbLeft + (scaleColors.length - 1) * cbBoxW + 1, y: cbTop + 1, width: cbBoxW - 2, height: cbBoxH - 2, fill: "url(#specks)"}, cbRoot);


scaleLabels.forEach(function (label, i) {
  const t = make("text", {x: cbLeft + (i + 1) * cbBoxW + (label.charAt(0) === "-" ? 1 : 0), y: 1023, "font-size": 29, "text-anchor": "middle"}, cbRoot);
  
  
  t.textContent = label;
});
</script>
</body>
</html>
